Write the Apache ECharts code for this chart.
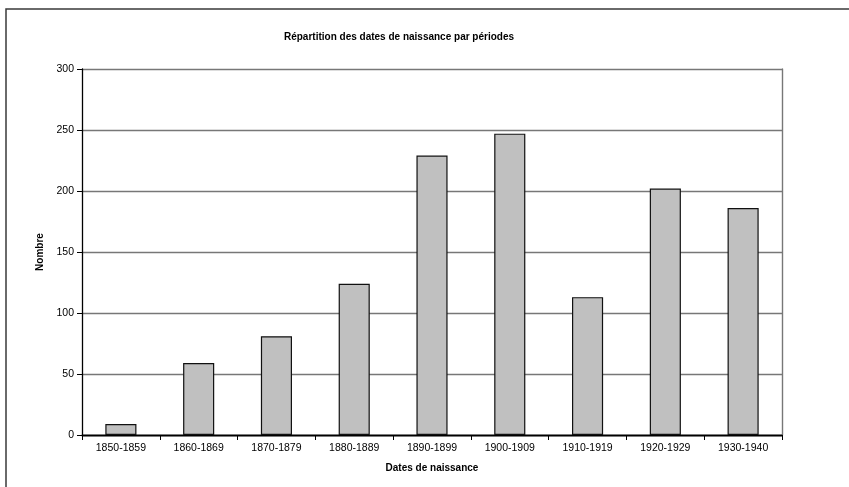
<!DOCTYPE html>
<html>
<head>
<meta charset="utf-8">
<script src="https://cdn.jsdelivr.net/npm/echarts@6/dist/echarts.min.js"></script>
<style>
html,body{margin:0;padding:0;background:#fff;}
#c{width:849px;height:487px;}
</style>
</head>
<body>
<div id="c"></div>
<script>
const categories = ['1850-1859','1860-1869','1870-1879','1880-1889','1890-1899','1900-1909','1910-1919','1920-1929','1930-1940'];
const values = [9, 59, 81, 124, 229, 247, 113, 202, 186];
const titleText = 'Répartition des dates de naissance par périodes';
const xName = 'Dates de naissance';
const yName = 'Nombre';

const chart = echarts.init(document.getElementById('c'), null, {renderer:'canvas'});
const font = 'Liberation Sans, Arial, sans-serif';
chart.setOption({
  animation: false,
  backgroundColor: '#fff',
  textStyle: {fontFamily: font},
  title: {
    text: titleText,
    left: 394, top: 27, textAlign: 'center',
    textStyle: {fontSize: 10, fontWeight: 'bold', color: '#000', fontFamily: font}
  },
  graphic: [
    {type:'rect', shape:{x:6, y:9, width:900, height:600}, style:{fill:'none', stroke:'#3a3a3a', lineWidth:1.5}, silent:true, z:-1}
  ],
  grid: {left: 82, right: 67, top: 69, bottom: 52, containLabel: false},
  xAxis: [{
    type: 'category',
    data: categories,
    boundaryGap: true,
    name: xName,
    nameLocation: 'middle',
    nameGap: 28,
    nameTextStyle: {fontSize: 10, fontWeight: 'bold', color: '#000', fontFamily: font},
    axisLine: {show: true, lineStyle: {color: '#000', width: 1.3}},
    axisTick: {show: true, length: 5, lineStyle: {color: '#000'}, alignWithLabel: false},
    axisLabel: {fontSize: 10.5, color: '#000', margin: 8, fontFamily: font, interval: 0},
    splitLine: {show: false}
  },{
    type: 'category',
    data: categories,
    position: 'top',
    axisLine: {show: true, lineStyle: {color: '#000', width: 1.3}},
    axisTick: {show: false},
    axisLabel: {show: false}
  }],
  yAxis: [{
    type: 'value',
    min: 0, max: 300, interval: 50,
    name: yName,
    nameLocation: 'middle',
    nameGap: 35,
    nameRotate: 90,
    nameTextStyle: {fontSize: 10, fontWeight: 'bold', color: '#000', fontFamily: font},
    axisLine: {show: true, lineStyle: {color: '#000', width: 1.3}},
    axisTick: {show: true, length: 5, lineStyle: {color: '#000'}},
    axisLabel: {fontSize: 10.5, color: '#000', margin: 8, fontFamily: font},
    splitLine: {show: true, lineStyle: {color: '#777', width: 1.4}}
  },{
    type: 'value',
    min: 0, max: 300, interval: 50,
    position: 'right',
    axisLine: {show: true, lineStyle: {color: '#777', width: 1.4}},
    axisTick: {show: false},
    axisLabel: {show: false},
    splitLine: {show: false}
  }],
  series: [{
    type: 'bar',
    data: values,
    barWidth: '40%',
    itemStyle: {color: '#c0c0c0', borderColor: '#111', borderWidth: 1.2}
  }]
});
</script>
</body>
</html>
